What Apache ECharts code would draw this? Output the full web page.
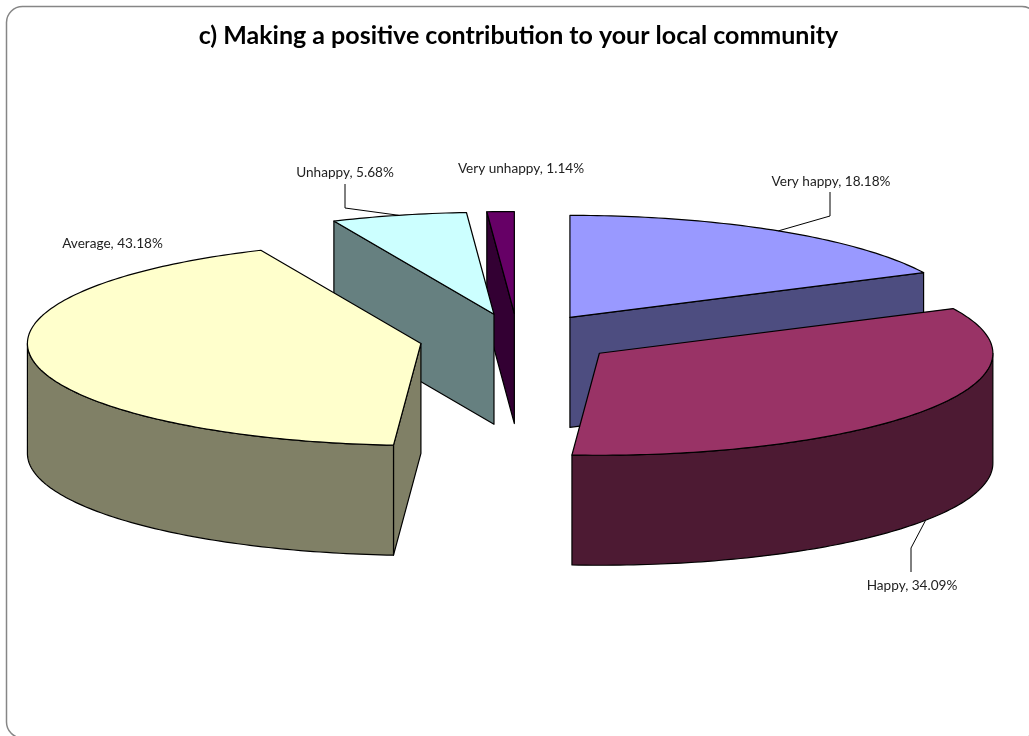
<!DOCTYPE html>
<html>
<head>
<meta charset="utf-8">
<style>html,body{margin:0;padding:0;background:#fff}#chart{width:1029px;height:736px}</style>
<script src="https://cdn.jsdelivr.net/npm/echarts@6/dist/echarts.min.js"></script>
</head>
<body>
<div id="chart"></div>
<script>
// Survey responses, in the order the slices run clockwise from twelve o'clock.
const categories = ['Very happy', 'Happy', 'Average', 'Unhappy', 'Very unhappy'];
const percentages = [18.18, 34.09, 43.18, 5.68, 1.14];

// Surface and wall colours per slice.
const topColors = ['#9999ff', '#993366', '#ffffcc', '#ccffff', '#660066'];
const wallColors = ['#4d4d80', '#4d1a33', '#808066', '#668080', '#330033'];

// Label centres, and the elbow of the leader line where a slice has one.
const labelCenters = [[831, 182], [912, 586], [112.5, 243.5], [345, 173], [521, 169]];
const leaderElbows = [[[830, 216], [830, 192]], [[911, 548], [911, 572]], null, [[345, 208], [345, 184]], null];

// Paint order: back slices first so the nearer ones overlap them.
const paintOrder = [4, 3, 0, 2, 1];

// Projected pie: ellipse radii, extrusion depth, explode fraction.
const pie = { cx: 517.8, cy: 339, rx: 393.5, ry: 102, depth: 110, explode: 0.25 };

const total = percentages.reduce((s, v) => s + v, 0);
const toRad = d => d * Math.PI / 180;

// Angles are clockwise from the top of the ellipse.
function slices() {
  let run = 0;
  return percentages.map(v => {
    const start = run / total * 360;
    run += v;
    const end = run / total * 360;
    const mid = toRad((start + end) / 2);
    return {
      start, end,
      ax: pie.cx + pie.explode * pie.rx * Math.sin(mid),
      ay: pie.cy - pie.explode * pie.ry * Math.cos(mid),
      mid: (start + end) / 2
    };
  });
}
const sliceGeometry = slices();

function rim(s, deg, dy) {
  return [s.ax + pie.rx * Math.sin(toRad(deg)), s.ay - pie.ry * Math.cos(toRad(deg)) + (dy || 0)];
}
function arc(s, from, to, dy) {
  const pts = [];
  const n = Math.max(2, Math.ceil(Math.abs(to - from)));
  for (let i = 0; i <= n; i++) pts.push(rim(s, from + (to - from) * i / n, dy));
  return pts;
}
const stroke = { stroke: '#000', lineWidth: 1.2, lineJoin: 'round' };

function sliceShapes(i) {
  const s = sliceGeometry[i];
  const apex = [s.ax, s.ay];
  const out = [];
  const face = (points, fill) => out.push({ type: 'polygon', shape: { points }, style: { fill, ...stroke } });

  // Cut faces: only those turned towards the viewer are drawn.
  if (Math.sin(toRad(s.start)) < -1e-6) {
    const r = rim(s, s.start);
    face([apex, r, [r[0], r[1] + pie.depth], [apex[0], apex[1] + pie.depth]], wallColors[i]);
  }
  if (Math.sin(toRad(s.end)) > 1e-6) {
    const r = rim(s, s.end);
    face([apex, r, [r[0], r[1] + pie.depth], [apex[0], apex[1] + pie.depth]], wallColors[i]);
  }
  // Outer wall on the front half of the ellipse.
  const from = Math.max(s.start, 90), to = Math.min(s.end, 270);
  if (to > from) {
    face(arc(s, from, to).concat(arc(s, to, from, pie.depth)), wallColors[i]);
  }
  // Top surface.
  face([apex].concat(arc(s, s.start, s.end)), topColors[i]);
  return out;
}

function renderSlice(params, api) {
  const i = api.value(0);
  return { type: 'group', children: sliceShapes(i) };
}

function renderLabel(params, api) {
  const i = api.value(0);
  const children = [];
  if (leaderElbows[i]) {
    const s = sliceGeometry[i];
    const from = rim(s, s.mid, s.mid > 90 && s.mid < 270 ? pie.depth : 0);
    children.push({
      type: 'polyline',
      shape: { points: [from].concat(leaderElbows[i]) },
      style: { stroke: '#000', lineWidth: 1, fill: 'none' }
    });
  }
  children.push({
    type: 'text',
    style: {
      x: labelCenters[i][0], y: labelCenters[i][1],
      text: categories[i] + ', ' + api.value(1).toFixed(2) + '%',
      fill: '#222', font: '13.6px Lato',
      align: 'center', verticalAlign: 'middle'
    }
  });
  return { type: 'group', children };
}

const chart = echarts.init(document.getElementById('chart'), null, { renderer: 'canvas' });
chart.setOption({
  animation: false,
  backgroundColor: '#fff',
  title: {
    text: 'c) Making a positive contribution to your local community',
    left: 513.5, top: 18, textAlign: 'center',
    textStyle: { fontFamily: 'Lato', fontWeight: 'bold', fontSize: 25, color: '#000' }
  },
  graphic: [{
    type: 'rect', silent: true, z: -1,
    shape: { x: 6.5, y: 6.5, width: 1031.5, height: 731.5, r: 16 },
    style: { fill: '#fff', stroke: '#868686', lineWidth: 1.5 }
  }],
  series: [
    {
      type: 'custom', coordinateSystem: 'none', silent: true, z: 2,
      renderItem: renderSlice,
      data: paintOrder.map(i => [i, percentages[i]])
    },
    {
      type: 'custom', coordinateSystem: 'none', silent: true, z: 3,
      renderItem: renderLabel,
      data: percentages.map((v, i) => [i, v])
    }
  ]
});
</script>
</body>
</html>
